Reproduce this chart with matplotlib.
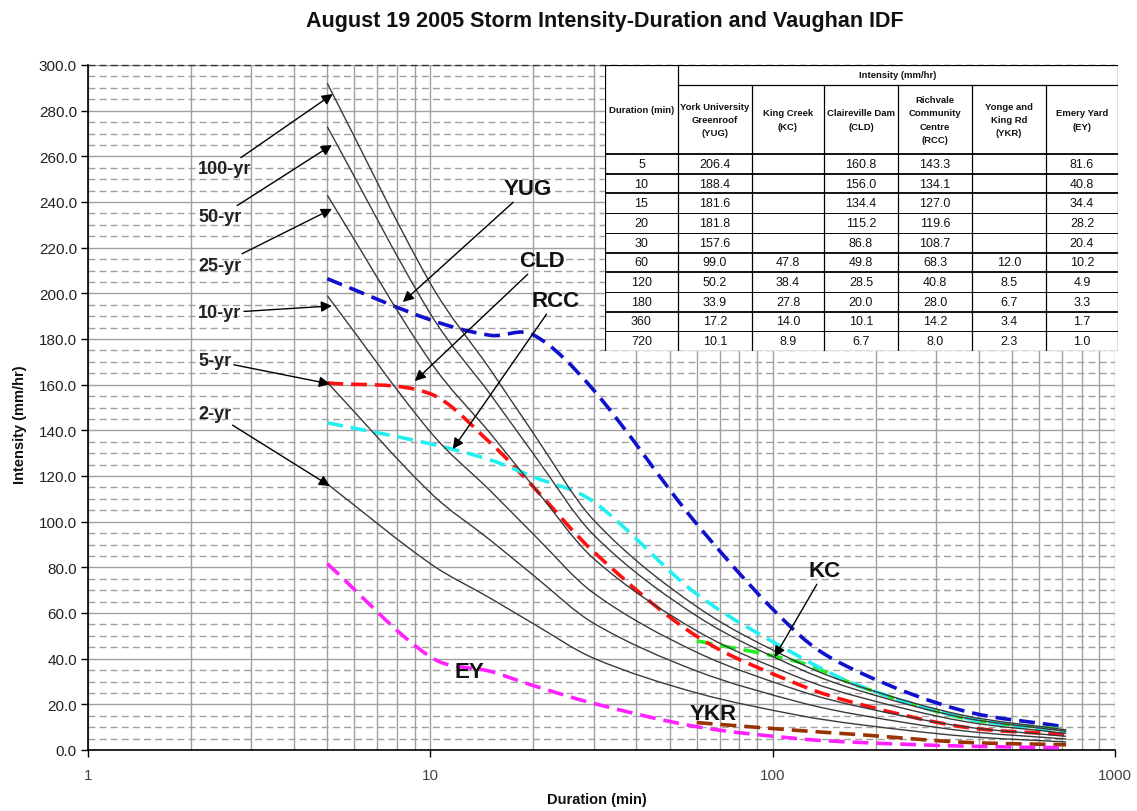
import matplotlib
matplotlib.use("Agg")
import matplotlib.pyplot as plt
from matplotlib import font_manager
from matplotlib.ticker import FixedLocator, NullFormatter, FuncFormatter
from matplotlib.path import Path
from matplotlib.patches import PathPatch
import numpy as np

# ---------------- data ----------------
durations = [5, 10, 15, 20, 30, 60, 120, 180, 360, 720]
YUG = [206.4, 188.4, 181.6, 181.8, 157.6, 99.0, 50.2, 33.9, 17.2, 10.1]
KC = [None, None, None, None, None, 47.8, 38.4, 27.8, 14.0, 8.9]
CLD = [160.8, 156.0, 134.4, 115.2, 86.8, 49.8, 28.5, 20.0, 10.1, 6.7]
RCC = [143.3, 134.1, 127.0, 119.6, 108.7, 68.3, 40.8, 28.0, 14.2, 8.0]
YKR = [None, None, None, None, None, 12.0, 8.5, 6.7, 3.4, 2.3]
EY = [81.6, 40.8, 34.4, 28.2, 20.4, 10.2, 4.9, 3.3, 1.7, 1.0]

# Vaughan IDF curves
idf_durations = [5, 10, 15, 20, 30, 60, 120, 180, 360, 720]
idf_2yr = [116.5, 81.6, 66.4, 55.3, 40.2, 25.0, 15.1, 11.1, 6.1, 3.5]
idf_5yr = [161.0, 112.7, 91.8, 76.5, 55.5, 34.6, 20.9, 15.3, 8.4, 4.8]
idf_10yr = [199.0, 139.3, 113.4, 94.5, 68.7, 42.8, 25.9, 18.9, 10.3, 6.0]
idf_25yr = [243.0, 170.1, 138.5, 115.4, 83.8, 52.2, 31.6, 23.1, 12.6, 7.3]
idf_50yr = [273.0, 191.1, 155.6, 129.7, 94.2, 58.7, 35.5, 25.9, 14.2, 8.2]
idf_100yr = [292.0, 204.4, 166.4, 138.7, 100.7, 62.8, 38.0, 27.7, 15.2, 8.8]

x_ticks = [1, 10, 100, 1000]
y_ticks = list(range(0, 301, 20))

station_names = ["York University\nGreenroof\n(YUG)", "King Creek\n(KC)",
                 "Claireville Dam\n(CLD)", "Richvale\nCommunity\nCentre\n(RCC)",
                 "Yonge and\nKing Rd\n(YKR)", "Emery Yard\n(EY)"]

# ---------------- fonts ----------------
names = {f.name for f in font_manager.fontManager.ttflist}
base = "Liberation Sans" if "Liberation Sans" in names else "DejaVu Sans"
narrow = "Liberation Sans Narrow" if "Liberation Sans Narrow" in names else base
plt.rcParams['font.family'] = [base, 'DejaVu Sans']

W, H = 1137, 812
fig = plt.figure(figsize=(W / 100, H / 100), dpi=100)
L, R, T, B = 88, 1115, 66, 751
ax = fig.add_axes([L / W, 1 - B / H, (R - L) / W, (B - T) / H])
ax.set_xscale('log')
ax.set_xlim(1, 1000)
ax.set_ylim(0, 300)

ax.yaxis.set_major_locator(FixedLocator(y_ticks))
ax.yaxis.set_minor_locator(FixedLocator([v for v in range(0, 301, 5) if v % 20]))
ax.yaxis.set_major_formatter(FuncFormatter(lambda v, p: f"{v:.1f}"))
ax.xaxis.set_major_locator(FixedLocator(x_ticks))
ax.xaxis.set_major_formatter(FuncFormatter(lambda v, p: f"{int(v)}"))
ax.xaxis.set_minor_formatter(NullFormatter())

ax.grid(True, axis='y', which='major', color='#a0a0a0', lw=1.0, ls='-')
ax.grid(True, axis='y', which='minor', color='#a0a0a0', lw=1.0, ls=(0, (5, 3)))
ax.grid(True, axis='x', which='both', color='#a0a0a0', lw=1.0, ls='-')
ax.set_axisbelow(True)
ax.axhline(300, color='#333333', lw=1.0, ls=(0, (5, 3)), clip_on=False, zorder=1)

for s in ['top', 'right']:
    ax.spines[s].set_visible(False)
for s in ['left', 'bottom']:
    ax.spines[s].set_color('black')
    ax.spines[s].set_linewidth(1.2)
ax.tick_params(axis='y', which='major', direction='out', length=5, width=1, labelsize=11,
               pad=3, labelcolor='#222222')
ax.tick_params(axis='y', which='minor', length=0)
ax.tick_params(axis='x', which='major', direction='out', length=5, width=1, labelsize=11,
               pad=8, labelcolor='#444444')
ax.tick_params(axis='x', which='minor', length=0)


def smooth_path(xs, ys):
    """Smoothed line through the points (cubic Hermite in log-x space,
    drawn as Bezier segments through the data points)."""
    u = np.log10(np.asarray(xs, float))
    v = np.asarray(ys, float)
    n = len(u)
    m = np.empty(n)
    m[0] = (v[1] - v[0]) / (u[1] - u[0])
    m[-1] = (v[-1] - v[-2]) / (u[-1] - u[-2])
    for i in range(1, n - 1):
        m[i] = (v[i + 1] - v[i - 1]) / (u[i + 1] - u[i - 1])
    verts = [(xs[0], ys[0])]
    codes = [Path.MOVETO]
    for i in range(n - 1):
        h = u[i + 1] - u[i]
        verts += [(10 ** (u[i] + h / 3), v[i] + m[i] * h / 3),
                  (10 ** (u[i + 1] - h / 3), v[i + 1] - m[i + 1] * h / 3),
                  (xs[i + 1], ys[i + 1])]
        codes += [Path.CURVE4] * 3
    return Path(verts, codes)


def series(vals):
    xs = [d for d, v in zip(durations, vals) if v is not None]
    ys = [v for v in vals if v is not None]
    return xs, ys

dash = (0, (4.4, 2.2))
for vals, col in [(YUG, '#1010cc'), (KC, '#22ee22'), (CLD, '#ff1010'),
                  (RCC, '#22f0f0'), (YKR, '#993300'), (EY, '#ff22ff')]:
    xs, ys = series(vals)
    ax.add_patch(PathPatch(smooth_path(xs, ys), fill=False, edgecolor=col, lw=2.6,
                           ls=dash, zorder=3))

# IDF curves
for vals in [idf_2yr, idf_5yr, idf_10yr, idf_25yr, idf_50yr, idf_100yr]:
    ax.add_patch(PathPatch(smooth_path(idf_durations, vals), fill=False,
                           edgecolor='#3a3a3a', lw=1.0, zorder=4))

# annotations
ap = dict(arrowstyle='-|>', color='black', lw=1.0, mutation_scale=16, shrinkA=0, shrinkB=0)
lab = dict(fontsize=13, fontweight='bold', color='#222222', va='center', ha='left')
ax.annotate('100-yr', xy=(5.19, 287.3), xytext=(2.095, 254.5), arrowprops=ap, **lab, zorder=6)
ax.annotate('50-yr', xy=(5.16, 265.0), xytext=(2.095, 233.5), arrowprops=ap, **lab, zorder=6)
ax.annotate('25-yr', xy=(5.16, 237.0), xytext=(2.095, 212.4), arrowprops=ap, **lab, zorder=6)
ax.annotate('10-yr', xy=(5.16, 194.5), xytext=(2.095, 191.4), arrowprops=ap, **lab, zorder=6)
ax.annotate('5-yr', xy=(5.09, 160.3), xytext=(2.095, 170.4), arrowprops=ap, **lab, zorder=6)
ax.annotate('2-yr', xy=(5.09, 115.6), xytext=(2.095, 147.2), arrowprops=ap, **lab, zorder=6)

big = dict(fontsize=16, fontweight='bold', color='#111111', va='center', ha='center')
ax.annotate('YUG', xy=(8.31, 196.2), xytext=(19.27, 245.7), arrowprops=ap, **big, zorder=6)
ax.annotate('CLD', xy=(9.01, 161.6), xytext=(21.17, 214.2), arrowprops=ap, **big, zorder=6)
ax.annotate('RCC', xy=(11.63, 131.8), xytext=(23.25, 196.7), arrowprops=ap, **big, zorder=6)
ax.annotate('KC', xy=(101.3, 40.7), xytext=(141.8, 78.4), arrowprops=ap, **big, zorder=6)
ax.text(13.04, 34.2, 'EY', **big, zorder=6)
ax.text(66.8, 15.8, 'YKR', **big, zorder=6)

# titles
fig.text(605 / W, 1 - 22 / H, 'August 19 2005 Storm Intensity-Duration and Vaughan IDF',
         ha='center', va='center', fontsize=15.5, fontweight='bold', color='#111111')
fig.text(20 / W, 1 - 425 / H, 'Intensity (mm/hr)', rotation=90, ha='center', va='center',
         fontsize=10.5, fontweight='bold', color='#111111')
fig.text(597 / W, 1 - 800 / H, 'Duration (min)', ha='center', va='center',
         fontsize=10.5, fontweight='bold', color='#111111')

# ---------------- table ----------------
cx = [605, 678, 752, 824, 898, 972, 1046, 1118]
ry_top, ry_int, ry_head = 66, 86, 155
row_h = (352 - 155) / len(durations)
ry = [ry_head + i * row_h for i in range(len(durations) + 1)]
tax = fig.add_axes([cx[0] / W, 1 - ry[-1] / H, (cx[-1] - cx[0]) / W, (ry[-1] - ry_top) / H])
tax.set_xlim(cx[0], cx[-1])
tax.set_ylim(ry[-1], ry_top)
tax.set_xticks([]); tax.set_yticks([])
for s in tax.spines.values():
    s.set_visible(False)
tax.set_facecolor('white')
tax.set_zorder(10)

lk = dict(color='black', lw=0.9)
tax.plot([cx[0], cx[-1], cx[-1], cx[0], cx[0]], [ry_top, ry_top, ry[-1], ry[-1], ry_top], **lk)
tax.plot([cx[1], cx[-1]], [ry_int, ry_int], **lk)
for x in cx[1:-1]:
    tax.plot([x, x], [ry_int if x != cx[1] else ry_top, ry[-1]], **lk)
for i, y in enumerate(ry[:-1]):
    tax.plot([cx[0], cx[-1]], [y, y], color='black', lw=1.3 if i in (0, 1, 2, 5, 6, 8) else 0.7)

hd = dict(fontsize=6.8, family=[narrow, 'DejaVu Sans'], ha='center', va='center',
          color='#111111', fontweight='bold', linespacing=1.6)
tax.text((cx[1] + cx[-1]) / 2, (ry_top + ry_int) / 2, 'Intensity (mm/hr)', **hd)
tax.text((cx[0] + cx[1]) / 2, (ry_top + ry_head) / 2, 'Duration (min)', **hd)
for j, nm in enumerate(station_names):
    tax.text((cx[j + 1] + cx[j + 2]) / 2, (ry_int + ry_head) / 2, nm, **hd)

dd = dict(fontsize=9, family=[narrow, 'DejaVu Sans'], ha='center', va='center', color='#111111')
cols = [YUG, KC, CLD, RCC, YKR, EY]
for i, d in enumerate(durations):
    yc = (ry[i] + ry[i + 1]) / 2
    tax.text((cx[0] + cx[1]) / 2, yc, f"{d}", **dd)
    for j, c in enumerate(cols):
        if c[i] is not None:
            tax.text((cx[j + 1] + cx[j + 2]) / 2, yc, f"{c[i]:.1f}", **dd)

fig.savefig('out.png', dpi=100)
